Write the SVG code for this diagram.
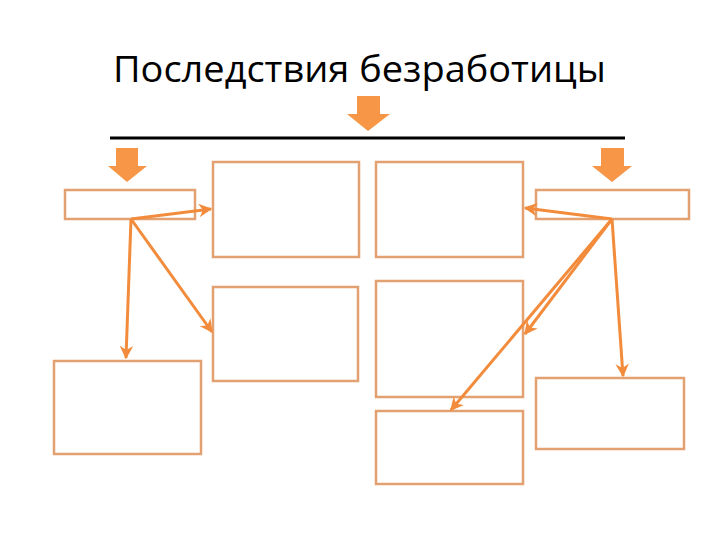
<svg xmlns="http://www.w3.org/2000/svg" width="720" height="540" viewBox="0 0 720 540">
<style>
.box{fill:#fff;stroke:#E3A070;stroke-width:2.5}
.con{stroke:#F28C3C;stroke-width:3;fill:none;marker-end:url(#ah)}
.blk{fill:#F79646}
.title{font-family:"Open Sans","Liberation Sans","DejaVu Sans",sans-serif;font-size:37px;fill:#000}
</style>
<defs>
<marker id="ah" viewBox="0 0 10 10" refX="9" refY="5" markerWidth="4.5" markerHeight="4.5" orient="auto" markerUnits="strokeWidth">
<path d="M0,0 L10,5 L0,10 L3,5 Z" fill="#F28C3C"/>
</marker>
</defs>
<rect width="720" height="540" fill="#fff"/>
<text class="title" x="113" y="82" textLength="493" lengthAdjust="spacingAndGlyphs">Последствия безработицы</text>
<line x1="110" y1="138" x2="625" y2="138" stroke="#000" stroke-width="3"/>
<g id="arrow-left"><path class="blk" d="M116,148 H138 V166 H147 L127,182 L108,166 H116 Z"/></g>
<g id="arrow-center"><path class="blk" d="M357,96 H380 V114 H390 L368,131 L347,114 H357 Z"/></g>
<g id="arrow-right"><path class="blk" d="M601,148 H624 V166 H632 L612,182 L592,166 H601 Z"/></g>
<g id="box-left-small"><rect class="box" x="65" y="190" width="130" height="29"/></g>
<g id="box-right-small"><rect class="box" x="536" y="190" width="153" height="29"/></g>
<g id="box-top-cl"><rect class="box" x="213" y="162" width="146" height="95"/></g>
<g id="box-top-cr"><rect class="box" x="376" y="162" width="147" height="95"/></g>
<g id="box-mid-l"><rect class="box" x="213" y="287" width="145" height="94"/></g>
<g id="box-mid-r"><rect class="box" x="376" y="281" width="147" height="116"/></g>
<g id="box-bot-l"><rect class="box" x="54" y="361" width="147" height="93"/></g>
<g id="box-bot-cr"><rect class="box" x="376" y="411" width="147" height="73"/></g>
<g id="box-bot-r"><rect class="box" x="536" y="378" width="148" height="71"/></g>
<g id="connectors">
<line class="con" x1="131" y1="219" x2="211" y2="209"/>
<line class="con" x1="131" y1="219" x2="126" y2="358"/>
<line class="con" x1="131" y1="219" x2="212" y2="332"/>
<line class="con" x1="612" y1="219" x2="525" y2="208"/>
<line class="con" x1="612" y1="219" x2="525" y2="334"/>
<line class="con" x1="612" y1="219" x2="451" y2="410"/>
<line class="con" x1="612" y1="219" x2="623" y2="376"/>
</g>
</svg>
